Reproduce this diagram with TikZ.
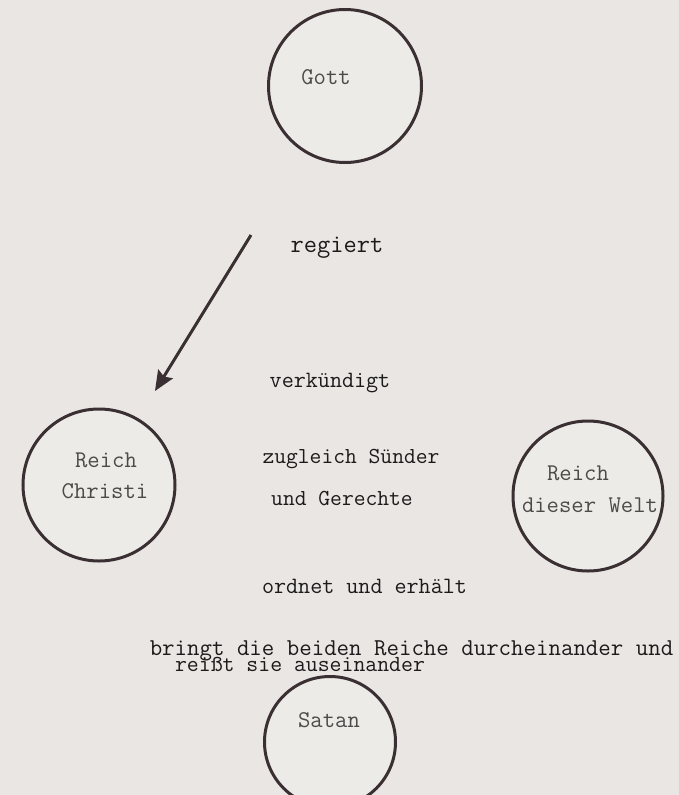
\documentclass[tikz,border=0pt]{standalone}
\usepackage{fontspec}
\usetikzlibrary{arrows.meta}
\definecolor{bg}{HTML}{E9E6E3}
\definecolor{paper}{HTML}{EDEBE8}
\definecolor{ink}{HTML}{3A3033}
\definecolor{txt}{HTML}{1C1A1A}
\definecolor{intxt}{HTML}{4E4A4A}
\begin{document}
\begin{tikzpicture}[x=1pt,y=-1pt,
  ring/.style={circle,draw=ink,line width=3pt,inner sep=0pt,fill=paper},
  lbl/.style={anchor=mid,inner sep=0pt,text=txt,font=\ttfamily\fontsize{23.4}{25}\selectfont},
  inlbl/.style={lbl,text=intxt,font=\ttfamily\fontsize{24}{25}\selectfont},
  arr/.style={draw=ink,line width=3pt,-{Stealth[length=20pt,width=17pt,inset=3pt]}}]
\useasboundingbox (0,0) rectangle (679,795);
\clip (0,0) rectangle (679,795);
\fill[bg] (0,0) rectangle (679,795);
% circles
\node[ring,minimum size=153pt] (gott) at (345,86) {};
\node[ring,minimum size=152pt] (christi) at (99,485) {};
\node[ring,minimum size=150pt] (welt) at (588,496) {};
\node[ring,minimum size=131pt] (satan) at (330,742) {};
% texts in circles
\node[inlbl] (tgott) at (326,82) {Gott};
\node[inlbl] (tchr1) at (106,465) {Reich};
\node[inlbl] (tchr2) at (105,496) {Christi};
\node[inlbl] (twelt1) at (578,478) {Reich};
\node[inlbl] (twelt2) at (590,510) {dieser Welt};
\node[inlbl] (tsatan) at (329,725) {Satan};
% free texts
\node[lbl,font=\ttfamily\fontsize{25.7}{27}\selectfont] (regiert) at (337,250) {regiert};
\node[lbl] (verk) at (330,385) {verkündigt};
\node[lbl,font=\ttfamily\fontsize{22.9}{25}\selectfont] (zugl) at (351,461) {zugleich Sünder};
\node[lbl,font=\ttfamily\fontsize{22.9}{25}\selectfont] (gerecht) at (342,503) {und Gerechte};
\node[lbl] (ordnet) at (364.5,591) {ordnet und erhält};
\node[lbl,font=\ttfamily\fontsize{24.2}{25}\selectfont] (bringt) at (411.5,653) {bringt die beiden Reiche durcheinander und};
\node[lbl,font=\ttfamily\fontsize{23.1}{25}\selectfont] (reisst) at (300,669) {reißt sie auseinander};
% arrow
\coordinate (a0) at (251,235);
\coordinate (a1) at (155,391);
\draw[arr] (a0) -- (a1);
\end{tikzpicture}
\end{document}
